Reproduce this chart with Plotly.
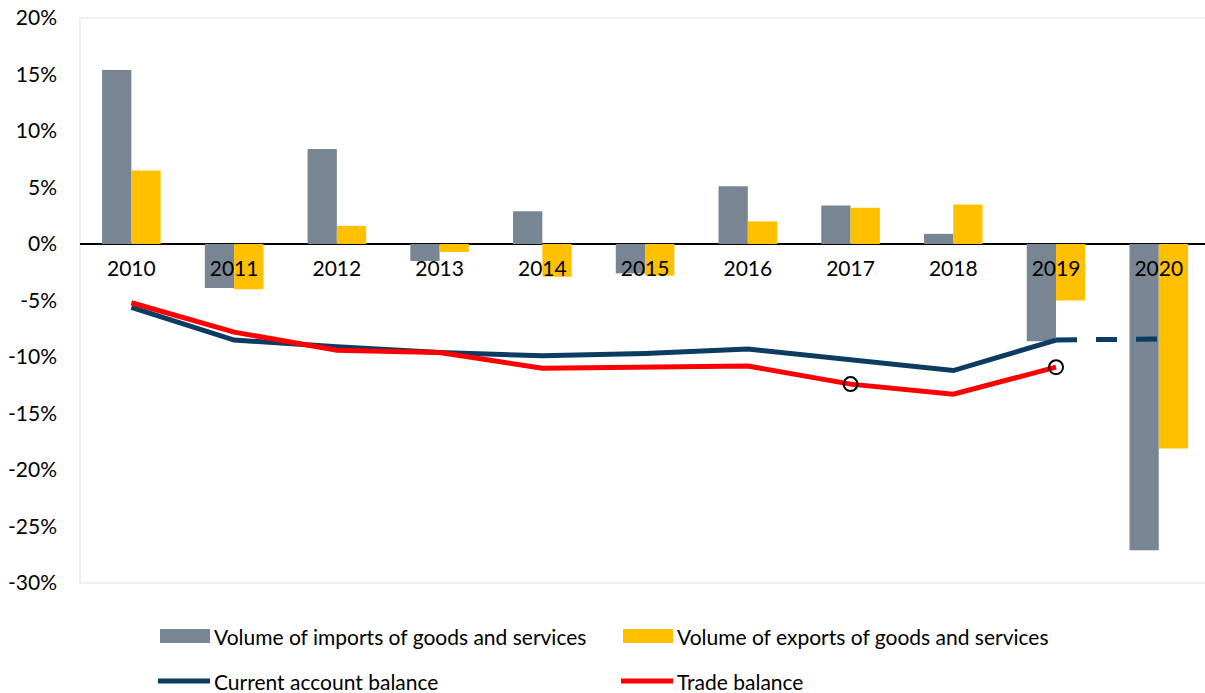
import plotly.graph_objects as go

years = ["2010", "2011", "2012", "2013", "2014", "2015", "2016", "2017", "2018", "2019", "2020"]
imports_vol = [15.4, -3.9, 8.4, -1.5, 2.9, -2.6, 5.1, 3.4, 0.9, -8.6, -27.1]
exports_vol = [6.5, -4.0, 1.6, -0.7, -2.9, -2.8, 2.0, 3.2, 3.5, -5.0, -18.1]
current_account = [-5.6, -8.5, -9.1, -9.6, -9.9, -9.7, -9.3, -10.3, -11.2, -8.5]
current_account_proj_years = ["2019", "2020"]
current_account_proj = [-8.5, -8.4]
trade_balance = [-5.2, -7.8, -9.4, -9.6, -11.0, -10.9, -10.8, -12.4, -13.3, -10.9]
trade_marked_years = ["2017", "2019"]
trade_marked = [-12.4, -10.9]
y_ticks = [20, 15, 10, 5, 0, -5, -10, -15, -20, -25, -30]
y_tick_labels = ["20%", "15%", "10%", "5%", "0%", "-5%", "-10%", "-15%", "-20%", "-25%", "-30%"]

GRAY = "#788694"
GOLD = "#FFC000"
NAVY = "#0C3C62"
RED = "#FF0000"
FONT = "Lato"
FS = 21

W, H = 1205, 693
ML, MR, MT, MB = 80, 0, 18, 110

fig = go.Figure()
fig.add_trace(go.Bar(x=years, y=imports_vol, name="Volume of imports of goods and services",
                     marker=dict(color=GRAY, line=dict(width=0))))
fig.add_trace(go.Bar(x=years, y=exports_vol, name="Volume of exports of goods and services",
                     marker=dict(color=GOLD, line=dict(width=0))))
fig.add_trace(go.Scatter(x=years[:len(current_account)], y=current_account, mode="lines",
                         name="Current account balance", line=dict(color=NAVY, width=5)))
fig.add_trace(go.Scatter(x=current_account_proj_years, y=current_account_proj, mode="lines",
                         showlegend=False, line=dict(color=NAVY, width=5, dash="21px,19px")))
fig.add_trace(go.Scatter(x=years[:len(trade_balance)], y=trade_balance, mode="lines",
                         name="Trade balance", line=dict(color=RED, width=5)))
fig.add_trace(go.Scatter(x=trade_marked_years, y=trade_marked, mode="markers", showlegend=False,
                         marker=dict(symbol="circle-open", size=14, color="black",
                                     line=dict(width=2, color="black"))))

y_min, y_max = -30, 20
zero_pos = (0 - y_min) / (y_max - y_min)

fig.update_layout(
    width=W, height=H,
    margin=dict(l=ML, r=MR, t=MT, b=MB),
    paper_bgcolor="white", plot_bgcolor="white",
    barmode="group", bargap=0.43, bargroupgap=0,
    showlegend=False,
    font=dict(family=FONT, size=FS, color="black"),
    xaxis=dict(type="category", range=[-0.5, 10.45], anchor="free", position=zero_pos,
               showline=False, showgrid=False, ticks="", ticklabelstandoff=10,
               tickfont=dict(family=FONT, size=FS, color="black")),
    yaxis=dict(range=[y_min, y_max], tickvals=y_ticks, ticktext=y_tick_labels, showgrid=False,
               zeroline=True, zerolinecolor="black", zerolinewidth=1.5,
               ticks="", ticklabelstandoff=22, showline=False,
               tickfont=dict(family=FONT, size=FS, color="black")),
)

# light frame around the plotting area
fig.add_shape(type="rect", xref="paper", yref="paper", x0=0, x1=1.02, y0=0, y1=1,
              line=dict(color="#EBEBEB", width=1.5), layer="below")

# legend drawn below the plot
pw = W - ML - MR
ph = H - MT - MB


def px_x(x):
    return (x - ML) / pw


def px_y(y):
    return (H - MB - y) / ph


legend_rows = [
    ("bar", GRAY, "Volume of imports of goods and services", 160, 636),
    ("bar", GOLD, "Volume of exports of goods and services", 623, 636),
    ("line", NAVY, "Current account balance", 158, 681),
    ("line", RED, "Trade balance", 621, 681),
]
for kind, color, label, x0, yc in legend_rows:
    if kind == "bar":
        fig.add_shape(type="rect", xref="paper", yref="paper",
                      x0=px_x(x0), x1=px_x(x0 + 50), y0=px_y(yc + 7), y1=px_y(yc - 7),
                      fillcolor=color, line=dict(width=0))
        tx = x0 + 52
    else:
        fig.add_shape(type="line", xref="paper", yref="paper",
                      x0=px_x(x0), x1=px_x(x0 + 52), y0=px_y(yc), y1=px_y(yc),
                      line=dict(color=color, width=5))
        tx = x0 + 54
    fig.add_annotation(text=label, xref="paper", yref="paper", x=px_x(tx), y=px_y(yc),
                       xanchor="left", yanchor="middle", showarrow=False,
                       font=dict(family=FONT, size=FS, color="black"))

fig.write_html("out.html")
